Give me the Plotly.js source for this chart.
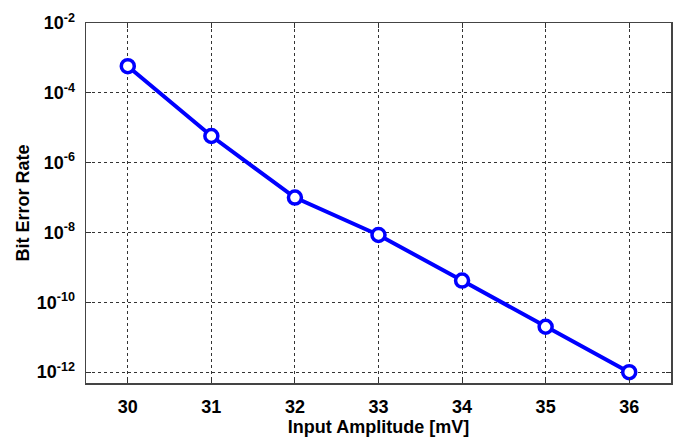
<!DOCTYPE html>
<html>
<head>
<meta charset="utf-8">
<script src="https://cdn.plot.ly/plotly-3.0.1.min.js"></script>
<style>html,body{margin:0;padding:0;background:#fff;}#chart{width:682px;height:437px;}</style>
</head>
<body>
<div id="chart"></div>
<script>
const amplitude = [30, 31, 32, 33, 34, 35, 36];
const ber = [5.8e-4, 5.8e-6, 1.0e-7, 8.5e-9, 4.2e-10, 2.0e-11, 1.0e-12];
const yTickVals = [1e-2, 1e-4, 1e-6, 1e-8, 1e-10, 1e-12];
const yTickText = ['10<sup>-2</sup>', '10<sup>-4</sup>', '10<sup>-6</sup>', '10<sup>-8</sup>', '10<sup>-10</sup>', '10<sup>-12</sup>'];
const xTickVals = [30, 31, 32, 33, 34, 35, 36];

const fam = 'Liberation Sans, Arial, sans-serif';

Plotly.newPlot('chart', [{
  x: amplitude, y: ber, type: 'scatter', mode: 'lines+markers',
  line: {color: '#0000ff', width: 4},
  marker: {symbol: 'circle', size: 13, color: '#ffffff', line: {color: '#0000ff', width: 3.5}},
  showlegend: false
}], {
  width: 682, height: 437,
  margin: {l: 86, r: 11, t: 23, b: 54},
  paper_bgcolor: '#fff', plot_bgcolor: '#fff',
  font: {family: fam, size: 18, color: '#000'},
  xaxis: {
    range: [29.5, 36.5], tickvals: xTickVals, ticks: 'inside', ticklen: 5, tickcolor: '#333',
    ticklabelstandoff: 7,
    showline: true, mirror: 'ticks', linecolor: '#444', linewidth: 1.5,
    showgrid: true, gridcolor: '#333', griddash: 'dot', gridwidth: 1, zeroline: false,
    tickfont: {family: fam, size: 18, color: '#000', weight: 'bold'},
    title: {text: '<b>Input Amplitude [mV]</b>', font: {family: fam, size: 18, color: '#000'}, standoff: 0}
  },
  yaxis: {
    type: 'log', range: [-12.31, -2], tickvals: yTickVals, ticktext: yTickText,
    ticks: 'inside', ticklen: 5, tickcolor: '#333',
    ticklabelstandoff: 6,
    showline: true, mirror: 'ticks', linecolor: '#444', linewidth: 1.5,
    showgrid: true, gridcolor: '#333', griddash: 'dot', gridwidth: 1, zeroline: false,
    tickfont: {family: fam, size: 18, color: '#000', weight: 'bold'},
    title: {text: '<b>Bit Error Rate</b>', font: {family: fam, size: 18, color: '#000'}, standoff: 2}
  }
}, {displayModeBar: false, staticPlot: true});
</script>
</body>
</html>
